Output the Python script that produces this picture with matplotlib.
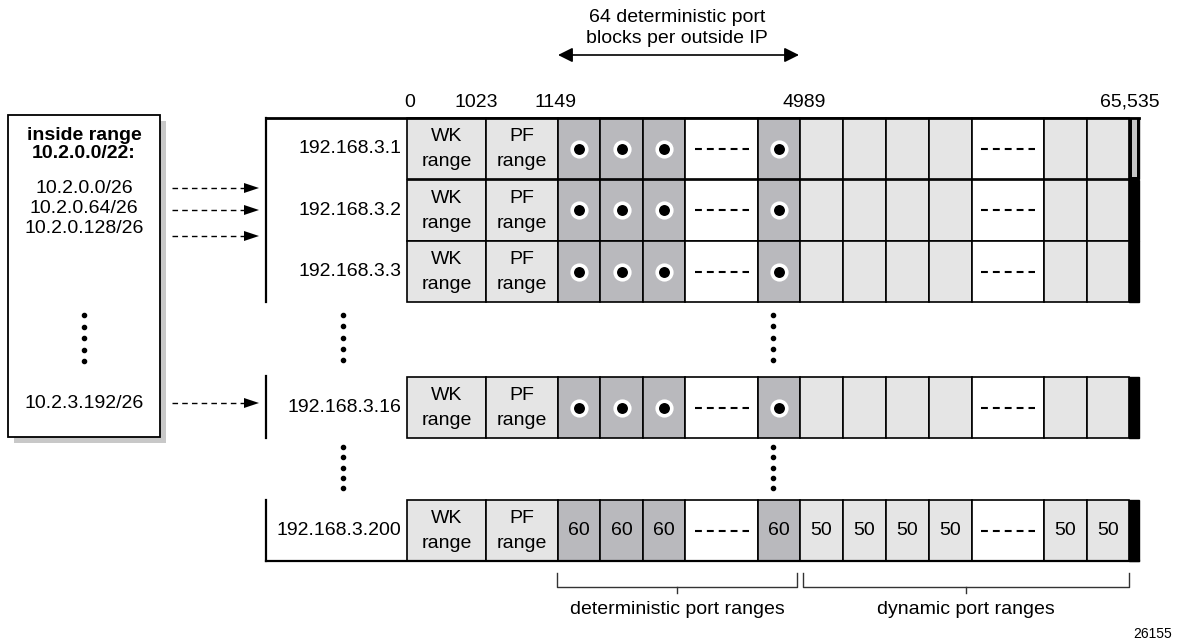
import matplotlib.pyplot as plt
from matplotlib.patches import Rectangle, Polygon

plt.rcParams["font.family"] = ["Liberation Sans", "DejaVu Sans"]

# data
outside_ips = ["192.168.3.1", "192.168.3.2", "192.168.3.3", "192.168.3.16", "192.168.3.200"]
inside_subnets = ["10.2.0.0/26", "10.2.0.64/26", "10.2.0.128/26"]
last_subnet = "10.2.3.192/26"
port_labels = ["0", "1023", "1149", "4989", "65,535"]
cell_kinds = ["wk", "pf", "det", "det", "det", "gap", "det",
              "dyn", "dyn", "dyn", "dyn", "gap", "dyn", "dyn"]
det_block_value = 60
dyn_block_value = 50

# layout (pixel coords)
col_edges = [407, 486, 558, 600, 643, 685, 758, 800, 843, 886, 929, 972, 1044, 1087, 1129]
row_tops = [118, 179.5, 241, 377, 500]
row_h = 61
port_label_x = [410, 476, 555, 804, 1130]
bar_w = 10

LIGHT = "#e5e5e5"
DARK = "#b9b9bd"
FS = 14

fig = plt.figure(figsize=(11.78, 6.44), dpi=100)
ax = fig.add_axes([0, 0, 1, 1])
ax.set_xlim(0, 1178)
ax.set_ylim(644, 0)
ax.axis("off")

fills = {"wk": LIGHT, "pf": LIGHT, "det": DARK, "gap": "white", "dyn": LIGHT}


def vdots(x, y0, y1):
    ys = [y0 + (y1 - y0) * i / 4 for i in range(5)]
    ax.plot([x] * 5, ys, "o", color="black", ms=3)


def dashed_arrow(y, x0=172, x1=259):
    ax.plot([x0, x1 - 12], [y, y], color="black", lw=1, ls=(0, (4, 3)))
    ax.add_patch(Polygon([[x1 - 15, y - 5], [x1, y], [x1 - 15, y + 5]],
                         closed=True, color="black", lw=0))


# left box with shadow
ax.add_patch(Rectangle((14, 121), 152, 322, facecolor="#c8c8c8", edgecolor="none"))
ax.add_patch(Rectangle((8, 115), 152, 322, facecolor="white", edgecolor="black", lw=1.3))
ax.text(84, 135, "inside range", ha="center", va="center", fontsize=FS, fontweight="bold")
ax.text(84, 153, "10.2.0.0/22:", ha="center", va="center", fontsize=FS, fontweight="bold")
for i, s in enumerate(inside_subnets):
    ax.text(84, 188 + 20 * i, s, ha="center", va="center", fontsize=FS)
vdots(84, 315, 361)
ax.text(84, 403, last_subnet, ha="center", va="center", fontsize=FS)

for y in [188, 210, 236, 403]:
    dashed_arrow(y)

# rows of port blocks
for r, (ip, top) in enumerate(zip(outside_ips, row_tops)):
    cy = top + row_h / 2
    ax.text(401, cy, ip, ha="right", va="center", fontsize=FS)
    for c, kind in enumerate(cell_kinds):
        x0, x1 = col_edges[c], col_edges[c + 1]
        xc = (x0 + x1) / 2
        ax.add_patch(Rectangle((x0, top), x1 - x0, row_h, facecolor=fills[kind],
                               edgecolor="black", lw=1.2))
        if kind == "wk":
            ax.text(xc, cy - 12, "WK", ha="center", va="center", fontsize=FS)
            ax.text(xc, cy + 13, "range", ha="center", va="center", fontsize=FS)
        elif kind == "pf":
            ax.text(xc, cy - 12, "PF", ha="center", va="center", fontsize=FS)
            ax.text(xc, cy + 13, "range", ha="center", va="center", fontsize=FS)
        elif kind == "gap":
            ax.plot([xc - 27, xc + 27], [cy, cy], color="black", lw=1.5, ls=(0, (3.3, 2.4)))
        elif r == len(outside_ips) - 1:
            val = det_block_value if kind == "det" else dyn_block_value
            ax.text(xc, cy, str(val), ha="center", va="center", fontsize=FS)
        elif kind == "det":
            ax.plot(xc, cy, "o", ms=10.5, mfc="black", mec="white", mew=2.6)
    ax.add_patch(Rectangle((col_edges[-1], top), bar_w, row_h, facecolor="black",
                           edgecolor="black", lw=1))
    if r == 0:
        ax.add_patch(Rectangle((col_edges[-1] + 2.5, top + 1), bar_w - 5, row_h - 3,
                               facecolor="#c4c4c4", edgecolor="none"))

right = col_edges[-1] + bar_w
# block outlines
ax.plot([266, right], [row_tops[0], row_tops[0]], color="black", lw=2)
ax.plot([266, 266], [row_tops[0], row_tops[2] + row_h], color="black", lw=1.6)
ax.plot([266, 266], [row_tops[3] - 1, row_tops[3] + row_h], color="black", lw=1.6)
ax.plot([266, 266], [row_tops[4], row_tops[4] + row_h], color="black", lw=1.6)
ax.plot([266, right], [row_tops[4] + row_h, row_tops[4] + row_h], color="black", lw=1.6)

# vertical ellipses
for y0, y1 in [(315, 360), (447, 488)]:
    vdots(343, y0, y1)
    vdots(773, y0, y1)

# port boundary labels
for x, s in zip(port_label_x, port_labels):
    ax.text(x, 102, s, ha="center", va="center", fontsize=FS)

# top span arrow
ax.annotate("", xy=(558, 55), xytext=(799, 55),
            arrowprops=dict(arrowstyle="<|-|>", color="black", lw=1.2,
                            mutation_scale=22, shrinkA=0, shrinkB=0))
ax.text(677, 17, "64 deterministic port", ha="center", va="center", fontsize=FS)
ax.text(677, 38, "blocks per outside IP", ha="center", va="center", fontsize=FS)

# bottom brackets
for x0, x1, label in [(557, 797, "deterministic port ranges"),
                      (803, 1129, "dynamic port ranges")]:
    xm = (x0 + x1) / 2
    ax.plot([x0, x0, x1, x1], [573, 587, 587, 573], color="#333333", lw=1)
    ax.plot([xm, xm], [587, 593], color="#333333", lw=1)
    ax.text(xm, 610, label, ha="center", va="center", fontsize=FS)

ax.text(1172, 634, "26155", ha="right", va="center", fontsize=10)

fig.savefig("out.png", dpi=100)
